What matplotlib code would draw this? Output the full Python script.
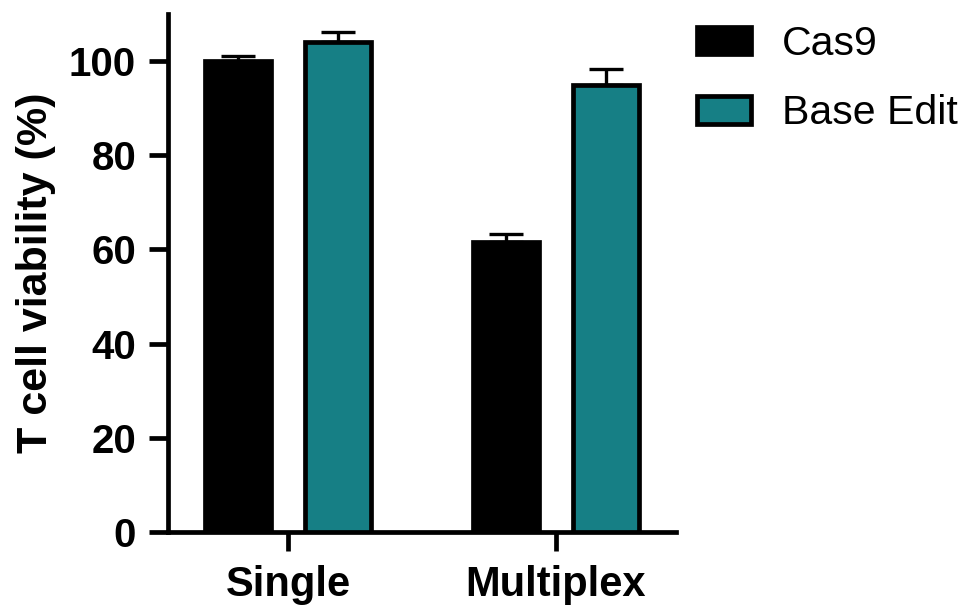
import numpy as np
import matplotlib
matplotlib.use("Agg")
import matplotlib.pyplot as plt
from matplotlib.patches import Patch

plt.rcParams["font.family"] = ["Liberation Sans", "DejaVu Sans"]

groups = ["Single", "Multiplex"]
series = ["Cas9", "Base Edit"]
means = {"Cas9": [100.0, 61.6], "Base Edit": [104.0, 94.9]}
errs = {"Cas9": [1.1, 1.6], "Base Edit": [2.2, 3.4]}
colors = {"Cas9": "#000000", "Base Edit": "#167f85"}
yticks = [0, 20, 40, 60, 80, 100]

fig = plt.figure(figsize=(9.68, 6.09), dpi=100)
ax = fig.add_axes([168 / 968, 1 - 532 / 609, (676 - 168) / 968, 518 / 609])

x = np.arange(len(groups))
w = 0.246
off = [-0.187, 0.187]
for s, o in zip(series, off):
    ax.bar(x + o, means[s], w, color=colors[s], edgecolor="black", linewidth=3.4, zorder=3)
    ax.errorbar(x + o, means[s], yerr=[np.zeros(2), errs[s]], fmt="none",
                ecolor="black", elinewidth=2.4, capsize=12, capthick=2.4, zorder=2)

ax.set_xlim(-0.448, 1.448)
ax.set_ylim(0, 110)
ax.set_xticks(x)
ax.set_xticklabels(groups, fontsize=30, fontweight="bold")
ax.set_yticks(yticks)
ax.set_yticklabels([str(v) for v in yticks], fontsize=29, fontweight="bold")
ax.set_ylabel("T cell viability (%)", fontsize=31, fontweight="bold", labelpad=9)
for sp in ["top", "right"]:
    ax.spines[sp].set_visible(False)
for sp in ["left", "bottom"]:
    ax.spines[sp].set_linewidth(3.4)
ax.tick_params(axis="both", length=14, width=3.4, pad=9)
ax.tick_params(axis="x", pad=10)

handles = [Patch(facecolor=colors[s], edgecolor="black", linewidth=3.4) for s in series]
fig.legend(handles, series, loc="upper left", bbox_to_anchor=(697 / 968, 1 - 25 / 609),
           frameon=False, fontsize=29.5, borderpad=0, borderaxespad=0,
           handlelength=1.32, handleheight=0.66, handletextpad=0.76, labelspacing=0.76)

fig.savefig("out.png", dpi=100)
